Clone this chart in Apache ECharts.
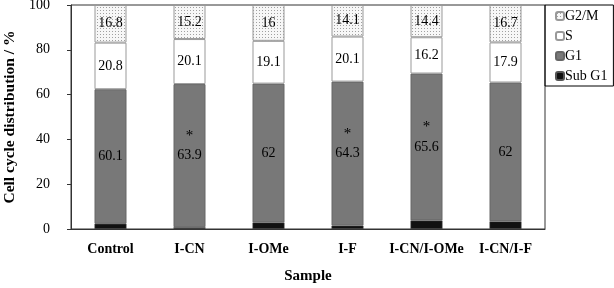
<!DOCTYPE html>
<html>
<head>
<meta charset="utf-8">
<script src="https://cdn.jsdelivr.net/npm/echarts@6/dist/echarts.min.js"></script>
<style>html,body{margin:0;padding:0;background:#fff;}#c{width:614px;height:288px;}</style>
</head>
<body>
<div id="c"></div>
<script>
var categories = ['Control', 'I-CN', 'I-OMe', 'I-F', 'I-CN/I-OMe', 'I-CN/I-F'];
var subG1 = [2.3, 0.8, 2.9, 1.5, 3.8, 3.4];
var g1 = [60.1, 63.9, 62, 64.3, 65.6, 62];
var sPhase = [20.8, 20.1, 19.1, 20.1, 16.2, 17.9];
var g2m = [16.8, 15.2, 16, 14.1, 14.4, 16.7];
var significant = [false, true, false, true, true, false];
var yTicks = [0, 20, 40, 60, 80, 100];

var FONT = '"Liberation Serif", "Times New Roman", serif';

// dotted pattern for G2/M
var pc = document.createElement('canvas');
pc.width = 3; pc.height = 3;
var pctx = pc.getContext('2d');
pctx.fillStyle = '#f7f7f7';
pctx.fillRect(0, 0, 3, 3);
pctx.fillStyle = '#a0a0a0';
pctx.fillRect(1, 1, 1, 1);

var chart = echarts.init(document.getElementById('c'), null, {renderer: 'canvas'});

var labelBase = {show: true, position: 'inside', color: '#000', fontFamily: FONT, fontSize: 14};

chart.setOption({
  animation: false,
  backgroundColor: '#fff',
  grid: {left: 71, right: 69, top: 5, bottom: 59, containLabel: false, outerBoundsMode: 'none',
    show: true, borderColor: '#333', borderWidth: 1, backgroundColor: 'transparent'},
  legend: {
    orient: 'vertical', left: 545, top: 5,
    itemWidth: 8, itemHeight: 8, itemGap: 6,
    padding: [4, 6, 3, 10],
    borderColor: '#000', borderWidth: 1,
    textStyle: {fontFamily: FONT, fontSize: 14, color: '#000', padding: [0, 0, 0, -4]},
    data: ['G2/M', 'S', 'G1', 'Sub G1']
  },
  xAxis: {
    type: 'category', data: categories,
    name: 'Sample', nameLocation: 'middle', nameGap: 40,
    nameTextStyle: {fontFamily: FONT, fontSize: 15, fontWeight: 'bold', color: '#000'},
    axisLine: {lineStyle: {color: '#333'}},
    axisTick: {alignWithLabel: true, length: 4, lineStyle: {color: '#333'}},
    axisLabel: {interval: 0, fontFamily: FONT, fontSize: 14, fontWeight: 'bold', color: '#000', margin: 13}
  },
  yAxis: {
    type: 'value', min: 0, max: 100, interval: 20,
    name: 'Cell cycle distribution / %', nameLocation: 'middle', nameGap: 53,
    nameTextStyle: {fontFamily: FONT, fontSize: 15.5, fontWeight: 'bold', color: '#000'},
    axisLine: {show: true, lineStyle: {color: '#333'}},
    axisTick: {show: true, length: 4, lineStyle: {color: '#333'}},
    splitLine: {show: false},
    axisLabel: {fontFamily: FONT, fontSize: 14, color: '#000', margin: 21,
      formatter: function (v) { return yTicks.indexOf(v) >= 0 ? String(v) : ''; }}
  },
  series: [
    {name: 'Sub G1', type: 'bar', stack: 'a', barWidth: 32, data: subG1,
      itemStyle: {color: '#111', borderColor: '#555', borderWidth: 0.5}},
    {name: 'G1', type: 'bar', stack: 'a', barWidth: 32, data: g1,
      itemStyle: {color: '#787878', borderColor: '#666', borderWidth: 1},
      label: Object.assign({}, labelBase, {
        formatter: function (p) {
          return significant[p.dataIndex]
            ? '{s|*}\n{v|' + p.value + '}\n{e| }'
            : '{v|' + p.value + '}';
        },
        rich: {
          s: {fontFamily: FONT, fontSize: 15, color: '#000', lineHeight: 24},
          v: {fontFamily: FONT, fontSize: 14, color: '#000', lineHeight: 16},
          e: {fontSize: 14, lineHeight: 24}
        }
      })},
    {name: 'S', type: 'bar', stack: 'a', barWidth: 32, data: sPhase,
      itemStyle: {color: '#ffffff', borderColor: '#999', borderWidth: 1},
      label: Object.assign({}, labelBase)},
    {name: 'G2/M', type: 'bar', stack: 'a', barWidth: 32, data: g2m,
      itemStyle: {color: {image: pc, repeat: 'repeat'}, borderColor: '#999', borderWidth: 1},
      label: Object.assign({}, labelBase)}
  ]
});
</script>
</body>
</html>
